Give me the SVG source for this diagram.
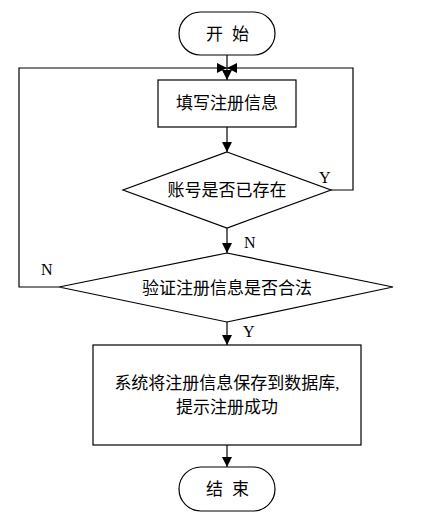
<svg xmlns="http://www.w3.org/2000/svg" width="435" height="520" viewBox="0 0 435 520">
<style>
.s{fill:#fff;stroke:#000;stroke-width:1.2}
.c{fill:none;stroke:#000;stroke-width:1.2}
.t{font-family:"Liberation Serif","Noto Sans CJK SC",serif;font-size:17px;fill:#000;text-anchor:middle}
.l{font-family:"Liberation Serif",serif;font-size:16px;fill:#000}
</style>
<defs>
<marker id="a" viewBox="0 0 10 10" refX="10" refY="5" markerWidth="10" markerHeight="10" markerUnits="userSpaceOnUse" orient="auto">
<path d="M0,0 L10,5 L0,10 Z" fill="#000"/>
</marker>
</defs>
<rect width="435" height="520" fill="#fff"/>
<g id="connectors">
<line class="c" x1="227" y1="55" x2="227" y2="80" marker-end="url(#a)"/>
<polyline class="c" points="59,287 19,287 19,68 227,68" marker-end="url(#a)"/>
<polyline class="c" points="331,190 353,190 353,68 227,68" marker-end="url(#a)"/>
<line class="c" x1="227" y1="127" x2="227" y2="152" marker-end="url(#a)"/>
<line class="c" x1="227" y1="228" x2="227" y2="253" marker-end="url(#a)"/>
<line class="c" x1="227" y1="322" x2="227" y2="345" marker-end="url(#a)"/>
<line class="c" x1="227" y1="445" x2="227" y2="467" marker-end="url(#a)"/>
<text class="l" x="319" y="183">Y</text>
<text class="l" x="244" y="248">N</text>
<text class="l" x="41" y="275">N</text>
<text class="l" x="243" y="337">Y</text>
</g>
<g id="start">
<rect class="s" x="179" y="12" width="96" height="43" rx="21.5"/>
<text class="t" x="227" y="40" xml:space="preserve"><tspan x="214.5">开</tspan><tspan x="240.5">始</tspan></text>
</g>
<g id="fill">
<rect class="s" x="158" y="80" width="138" height="47"/>
<text class="t" x="227" y="109">填写注册信息</text>
</g>
<g id="exists">
<polygon class="s" points="227,152 331,190 227,228 123,190"/>
<text class="t" x="227" y="196">账号是否已存在</text>
</g>
<g id="valid">
<polygon class="s" points="227,253 393,287 227,322 59,287"/>
<text class="t" x="227" y="294">验证注册信息是否合法</text>
</g>
<g id="save">
<rect class="s" x="93" y="345" width="268" height="100"/>
<text class="t" x="227" y="389">系统将注册信息保存到数据库,</text>
<text class="t" x="227" y="413">提示注册成功</text>
</g>
<g id="end">
<rect class="s" x="179" y="467" width="96" height="44" rx="22"/>
<text class="t" x="227" y="495"><tspan x="214.5">结</tspan><tspan x="240.5">束</tspan></text>
</g>
</svg>
